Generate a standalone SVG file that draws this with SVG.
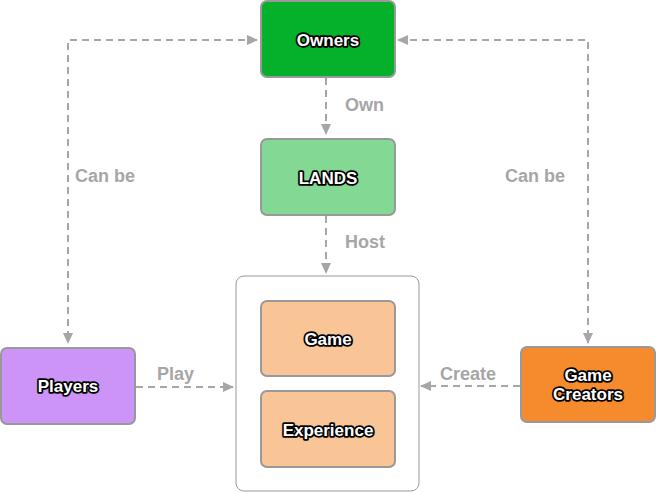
<svg xmlns="http://www.w3.org/2000/svg" width="656" height="492" viewBox="0 0 656 492">
<defs>
<style>
.n{stroke:#999;stroke-width:2}
.t{font-family:"Liberation Sans",Arial,sans-serif;font-weight:bold;font-size:17px;fill:#fff;stroke:#000;stroke-width:3.5;paint-order:stroke;text-anchor:middle;stroke-linejoin:round}
.l{font-family:"Liberation Sans",Arial,sans-serif;font-weight:bold;font-size:18px;fill:#a6a6a6}
.c{fill:none;stroke:#a6a6a6;stroke-width:2;stroke-dasharray:7,5}
</style>
<marker id="a" markerWidth="12" markerHeight="12" refX="10" refY="6" orient="auto-start-reverse" markerUnits="userSpaceOnUse"><path d="M0,1 L11,6 L0,11 z" fill="#a6a6a6"/></marker>
</defs>
<rect width="656" height="492" fill="#fff"/>
<g id="connectors">
<path class="c" d="M326,78 V134" marker-end="url(#a)"/>
<path class="c" d="M326,216 V273" marker-end="url(#a)"/>
<path class="c" d="M257,40 H68 V343" marker-start="url(#a)" marker-end="url(#a)"/>
<path class="c" d="M398,40 H588 V343" marker-start="url(#a)" marker-end="url(#a)"/>
<path class="c" d="M136,387 H233" marker-end="url(#a)"/>
<path class="c" d="M520,386 H421" marker-end="url(#a)"/>
<text class="l" x="345" y="111">Own</text>
<text class="l" x="345" y="248">Host</text>
<text class="l" x="75" y="182">Can be</text>
<text class="l" x="505" y="182">Can be</text>
<text class="l" x="157" y="380">Play</text>
<text class="l" x="440" y="380">Create</text>
</g>
<g id="owners"><rect class="n" x="261" y="1" width="134" height="76" rx="6" fill="#05b02a"/><text class="t" x="328" y="46">Owners</text></g>
<g id="lands"><rect class="n" x="261" y="139" width="134" height="76" rx="6" fill="#83d993"/><text class="t" x="328" y="184">LANDS</text></g>
<g id="container"><rect x="236" y="276" width="183" height="215" rx="8" fill="#fff" stroke="#999" stroke-width="1"/></g>
<g id="game"><rect class="n" x="261" y="301" width="134" height="75" rx="6" fill="#fac596"/><text class="t" x="328" y="345">Game</text></g>
<g id="experience"><rect class="n" x="261" y="391" width="134" height="76" rx="6" fill="#fac596"/><text class="t" x="328" y="436">Experience</text></g>
<g id="players"><rect class="n" x="1" y="348" width="134" height="76" rx="6" fill="#cc94f7"/><text class="t" x="68" y="392">Players</text></g>
<g id="creators"><rect class="n" x="521" y="347" width="134" height="75" rx="6" fill="#f68b2e"/><text class="t" x="588" y="381">Game</text><text class="t" x="588" y="400">Creators</text></g>
</svg>
